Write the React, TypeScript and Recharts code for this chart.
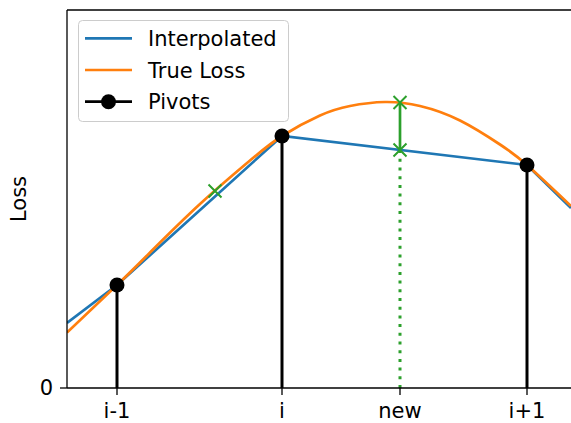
import React from 'react';
import {
  ComposedChart,
  Line,
  Scatter,
  XAxis,
  YAxis,
  ReferenceLine,
  Legend,
} from 'recharts';

// x in "step" units, y in loss units
const X_TICKS = [1.0, 4.3, 6.66, 9.2];
const X_TICK_LABELS = ['i-1', 'i', 'new', 'i+1'];
const Y_TICKS = [0];
const X_DOMAIN: [number, number] = [0, 10.08];
const Y_DOMAIN: [number, number] = [0, 7.56];

const TRUE_LOSS = [
  { x: 0, y: 1.11 },
  { x: 1.0, y: 2.06 },
  { x: 1.66, y: 2.71 },
  { x: 2.66, y: 3.68 },
  { x: 3.66, y: 4.55 },
  { x: 4.3, y: 5.04 },
  { x: 5.06, y: 5.45 },
  { x: 5.66, y: 5.64 },
  { x: 6.36, y: 5.72 },
  { x: 7.06, y: 5.64 },
  { x: 7.86, y: 5.35 },
  { x: 8.66, y: 4.87 },
  { x: 9.2, y: 4.46 },
  { x: 10.08, y: 3.64 },
];

const INTERPOLATED = [
  { x: 0, y: 1.3 },
  { x: 1.0, y: 2.06 },
  { x: 4.3, y: 5.04 },
  { x: 9.2, y: 4.46 },
  { x: 10.08, y: 3.6 },
];

const PIVOTS = [
  { x: 1.0, y: 2.06 },
  { x: 4.3, y: 5.04 },
  { x: 9.2, y: 4.46 },
];

const NEW_X = 6.66;
const NEW_TRUE = 5.71;
const NEW_INTERP = 4.76;

const SAMPLES = [
  { x: 2.96, y: 3.94 },
  { x: NEW_X, y: NEW_TRUE },
  { x: NEW_X, y: NEW_INTERP },
];

const LEGEND = [
  { label: 'Interpolated', color: '#1f77b4', marker: false },
  { label: 'True Loss', color: '#ff7f0e', marker: false },
  { label: 'Pivots', color: '#000000', marker: true },
];

const FONT = '"DejaVu Sans", sans-serif';
const GREEN = '#2ca02c';

const LegendBox = () => (
  <svg width={211} height={102} style={{ display: 'block' }}>
    <rect x={0.5} y={0.5} width={210} height={101} rx={4} fill="rgba(255,255,255,0.8)" stroke="#cccccc" />
    {LEGEND.map((e, i) => {
      const cy = 18.3 + i * 31.7;
      return (
        <g key={e.label}>
          <line x1={7} x2={54} y1={cy} y2={cy} stroke={e.color} strokeWidth={2.7} />
          {e.marker && <circle cx={30.5} cy={cy} r={7.5} fill={e.color} />}
          <text x={70} y={cy + 7.5} fontSize={21} fontFamily={FONT} fill="#000">
            {e.label}
          </text>
        </g>
      );
    })}
  </svg>
);

const XMark = (props: any) => {
  const { cx, cy } = props;
  const s = 6.5;
  return (
    <path
      d={`M${cx - s},${cy - s}L${cx + s},${cy + s}M${cx - s},${cy + s}L${cx + s},${cy - s}`}
      stroke={GREEN}
      strokeWidth={2}
      fill="none"
    />
  );
};

const Dot = (props: any) => <circle cx={props.cx} cy={props.cy} r={7.5} fill="#000" />;

const tickStyle = { fontSize: 21, fill: '#000', fontFamily: FONT };

export default function App() {
  return (
    <div style={{ position: 'absolute', left: 0, top: 0, background: '#fff' }}>
      <ComposedChart
        width={571}
        height={423}
        margin={{ top: 10, right: 0, bottom: 0, left: 0 }}
      >
        <XAxis
          type="number"
          dataKey="x"
          domain={X_DOMAIN}
          allowDataOverflow
          ticks={X_TICKS}
          interval={0}
          tickFormatter={(v: number) => X_TICK_LABELS[X_TICKS.indexOf(v)] ?? ''}
          tick={tickStyle}
          tickSize={7}
          tickMargin={8}
          height={35}
          axisLine={{ stroke: '#000', strokeWidth: 1.3 }}
          tickLine={{ stroke: '#000', strokeWidth: 1.3 }}
        />
        <YAxis
          type="number"
          dataKey="y"
          domain={Y_DOMAIN}
          allowDataOverflow
          ticks={Y_TICKS}
          tick={tickStyle}
          tickSize={7}
          tickMargin={7}
          width={67}
          axisLine={{ stroke: '#000', strokeWidth: 1.3 }}
          tickLine={{ stroke: '#000', strokeWidth: 1.3 }}
          label={{
            content: ({ viewBox }: any) => {
              const cx = viewBox.x + 26;
              const cy = viewBox.y + viewBox.height / 2;
              return (
                <text
                  x={cx}
                  y={cy}
                  transform={`rotate(-90, ${cx}, ${cy})`}
                  textAnchor="middle"
                  fontSize={21}
                  fontFamily={FONT}
                  fill="#000"
                >
                  Loss
                </text>
              );
            },
          }}
        />
        <ReferenceLine y={Y_DOMAIN[1]} stroke="#000" strokeWidth={1.3} />
        {PIVOTS.map((p) => (
          <ReferenceLine
            key={`stem-${p.x}`}
            segment={[
              { x: p.x, y: 0 },
              { x: p.x, y: p.y },
            ]}
            stroke="#000"
            strokeWidth={3}
          />
        ))}
        <ReferenceLine
          segment={[
            { x: NEW_X, y: 0 },
            { x: NEW_X, y: NEW_INTERP },
          ]}
          stroke={GREEN}
          strokeWidth={3}
          strokeDasharray="3 5.7"
        />
        <ReferenceLine
          segment={[
            { x: NEW_X, y: NEW_INTERP },
            { x: NEW_X, y: NEW_TRUE },
          ]}
          stroke={GREEN}
          strokeWidth={2.7}
        />
        <Line
          data={INTERPOLATED}
          dataKey="y"
          type="linear"
          stroke="#1f77b4"
          strokeWidth={2.7}
          dot={false}
          activeDot={false}
          isAnimationActive={false}
        />
        <Line
          data={TRUE_LOSS}
          dataKey="y"
          type="natural"
          stroke="#ff7f0e"
          strokeWidth={2.7}
          dot={false}
          activeDot={false}
          isAnimationActive={false}
        />
        <Scatter data={PIVOTS} dataKey="y" shape={Dot} isAnimationActive={false} />
        <Scatter data={SAMPLES} dataKey="y" shape={XMark} isAnimationActive={false} />
        <Legend
          layout="vertical"
          align="center"
          verticalAlign="middle"
          content={() => <LegendBox />}
          wrapperStyle={{ left: 78, top: 20, width: 211, height: 102 }}
        />
      </ComposedChart>
    </div>
  );
}
